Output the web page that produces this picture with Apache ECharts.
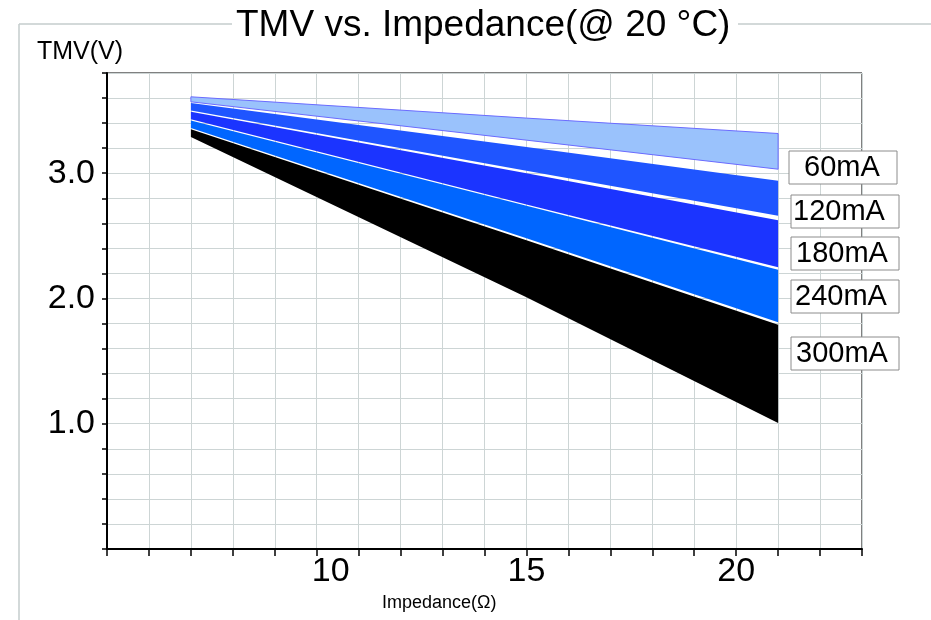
<!DOCTYPE html>
<html>
<head>
<meta charset="utf-8">
<script src="https://cdn.jsdelivr.net/npm/echarts@6/dist/echarts.min.js"></script>
<style>
html,body{margin:0;padding:0;background:#fff;}
#chart{width:931px;height:620px;}
</style>
</head>
<body>
<div id="chart"></div>
<script>
// ---- data ----
const impedance = [7, 15, 21];
const bandNames = ['60mA', '120mA', '180mA', '240mA', '300mA'];
const upper60  = [3.61, 3.44, 3.317];
const lower60  = [3.57, 3.264, 3.032];
const upper120 = [3.56, 3.21, 2.94];
const lower120 = [3.50, 3.02, 2.66];
const upper180 = [3.49, 3.00, 2.624];
const lower180 = [3.43, 2.75, 2.25];
const upper240 = [3.42, 2.74, 2.23];
const lower240 = [3.36, 2.48, 1.81];
const upper300 = [3.35, 2.464, 1.79];
const lower300 = [3.29, 2.01, 1.005];
const yTickLabels = [1, 2, 3];
const xTickLabels = [10, 15, 20];

// ---- styles ----
const uppers = [upper60, upper120, upper180, upper240, upper300];
const lowers = [lower60, lower120, lower180, lower240, lower300];
const bandColors = ['#9ac2fc', '#1f55ff', '#1b34ff', '#0066ff', '#000000'];
const edgeColors = ['#6b6bff', '#1f55ff', '#1b34ff', '#0066ff', '#000000'];

const series = bandNames.map((name, i) => ({
  type: 'custom', name: name,
  coordinateSystem: 'cartesian2d',
  silent: true,
  z: 2 + i,
  data: impedance.map((x, j) => [x, lowers[i][j], uppers[i][j]]),
  encode: {x: 0, y: [1, 2]},
  renderItem: function (params, api) {
    if (params.dataIndex !== 0) return null;
    const pts = [];
    for (let j = 0; j < impedance.length; j++) pts.push(api.coord([impedance[j], uppers[i][j]]));
    for (let j = impedance.length - 1; j >= 0; j--) pts.push(api.coord([impedance[j], lowers[i][j]]));
    return {
      type: 'polygon',
      shape: {points: pts},
      style: {fill: bandColors[i], stroke: edgeColors[i], lineWidth: i === 0 ? 1 : 0}
    };
  }
}));

const font = 'Liberation Sans, Arial, sans-serif';
const legendBoxes = [
  {t: '60mA',  bx: 789, by: 151, tx: 804},
  {t: '120mA', bx: 791, by: 195, tx: 793},
  {t: '180mA', bx: 791, by: 237, tx: 796},
  {t: '240mA', bx: 791, by: 280, tx: 795},
  {t: '300mA', bx: 791, by: 337, tx: 796}
];
const graphic = [
  {type: 'line', shape: {x1: 19, y1: 24, x2: 19, y2: 620}, style: {stroke: '#c4cccc', lineWidth: 1.5}, silent: true},
  {type: 'line', shape: {x1: 19, y1: 24, x2: 232, y2: 24}, style: {stroke: '#c4cccc', lineWidth: 1.5}, silent: true},
  {type: 'line', shape: {x1: 738, y1: 24, x2: 931, y2: 24}, style: {stroke: '#c4cccc', lineWidth: 1.5}, silent: true},
  {type: 'text', left: 236, top: 7, style: {text: 'TMV vs. Impedance(@ 20 \u00B0C)', font: '37px ' + font, fill: '#000'}, silent: true},
  {type: 'text', left: 37, top: 40, style: {text: 'TMV(V)', font: '25px ' + font, fill: '#000'}, silent: true},
  {type: 'text', left: 382, top: 594, style: {text: 'Impedance(\u03A9)', font: '18px ' + font, fill: '#000'}, silent: true}
];
legendBoxes.forEach(b => {
  graphic.push({type: 'rect', shape: {x: b.bx, y: b.by, width: 108, height: 33}, style: {fill: '#fff', stroke: '#8c8c8c', lineWidth: 1}, z: 100, silent: true});
  graphic.push({type: 'text', x: b.tx, y: b.by + 17, style: {text: b.t, font: '29px ' + font, fill: '#000', verticalAlign: 'middle'}, z: 101, silent: true});
});

const chart = echarts.init(document.getElementById('chart'), null, {renderer: 'canvas'});
chart.setOption({
  animation: false,
  backgroundColor: '#fff',
  grid: {left: 107, right: 69, top: 73, bottom: 71, show: true, borderColor: '#000', borderWidth: 1, backgroundColor: 'transparent'},
  xAxis: {
    type: 'value', min: 5, max: 23, interval: 1,
    axisLine: {show: true, onZero: false, lineStyle: {color: '#000', width: 2}},
    axisTick: {show: true, length: 7, lineStyle: {color: '#000', width: 1.5}},
    splitLine: {show: true, lineStyle: {color: '#cdd5d5', width: 1}},
    axisLabel: {
      show: true, margin: 6, color: '#000', fontSize: 34, fontFamily: font,
      showMinLabel: true, showMaxLabel: true,
      formatter: v => {
        if (v === xTickLabels[0]) return '{s|' + v + '}';
        return xTickLabels.indexOf(v) >= 0 ? String(v) : '';
      },
      rich: {s: {fontSize: 34, fontFamily: font, color: '#000', padding: [0, 0, 0, 28]}}
    }
  },
  yAxis: {
    type: 'value', min: 0, max: 3.8, interval: 0.2,
    axisLine: {show: true, onZero: false, lineStyle: {color: '#000', width: 2}},
    axisTick: {show: true, length: 5, lineStyle: {color: '#000', width: 1.5}},
    splitLine: {show: true, lineStyle: {color: '#cdd5d5', width: 1}},
    axisLabel: {
      show: true, margin: 12, color: '#000', fontSize: 34, fontFamily: font,
      padding: [10, 0, 0, 0],
      formatter: v => {
        const r = Math.round(v);
        return (Math.abs(v - r) < 1e-6 && yTickLabels.indexOf(r) >= 0) ? r.toFixed(1) : '';
      }
    }
  },
  series: series,
  graphic: graphic
});
</script>
</body>
</html>
